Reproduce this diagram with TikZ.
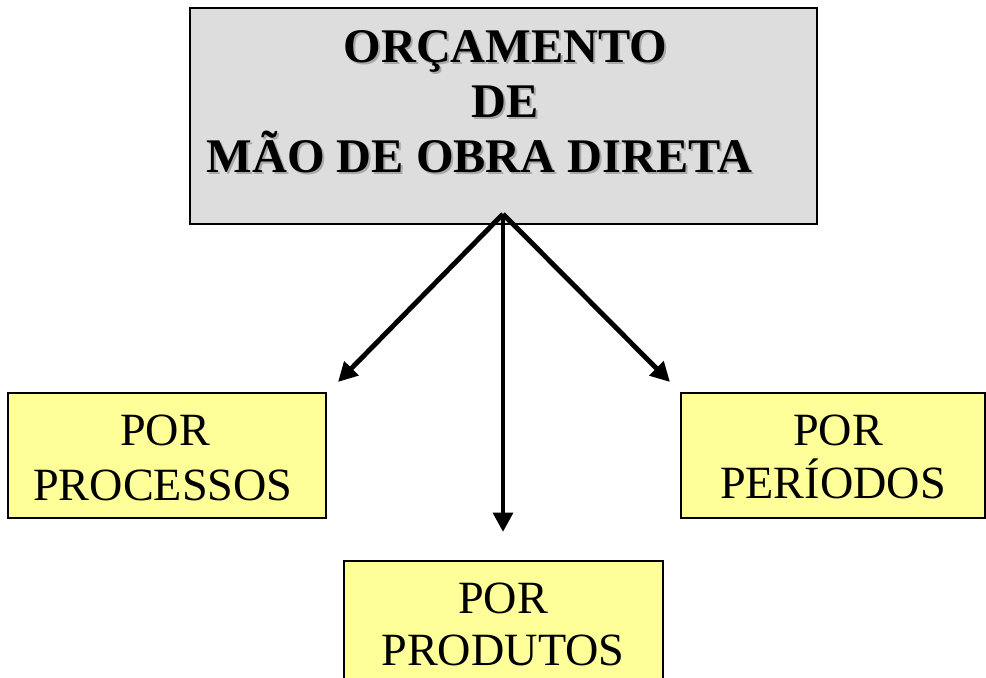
\documentclass[tikz,border=0pt]{standalone}
\usepackage{fontspec}
\setmainfont{Liberation Serif}
\usetikzlibrary{arrows.meta}
\definecolor{boxgray}{HTML}{DDDDDD}
\definecolor{boxyellow}{HTML}{FFFF99}
\definecolor{shadowgray}{HTML}{A8A8A8}
\tikzset{
  mainbox/.style={draw=black, line width=1.2pt, fill=boxgray, inner sep=0pt},
  subbox/.style={draw=black, line width=1.1pt, fill=boxyellow, inner sep=0pt, minimum height=2.5cm},
  titletext/.style={font=\fontsize{27.5}{31}\selectfont\bfseries, anchor=base, inner sep=0pt},
  titleshadow/.style={titletext, text=shadowgray},
  subtext/.style={font=\fontsize{26.3}{31}\selectfont, anchor=base, inner sep=0pt},
  conn/.style={line width=2.8pt, -{Triangle[length=11pt,width=11pt]}},
}
\begin{document}
\begin{tikzpicture}[x=0.02cm,y=-0.02cm]
\useasboundingbox[fill=white] (0,0) rectangle (986,677);

% main box
\node[mainbox, minimum width=12.54cm, minimum height=4.32cm] (top) at (503.5,116) {};
\node[titleshadow] (t1s) at (507.5,64) {ORÇAMENTO};
\node[titleshadow] (t2s) at (507,119) {DE};
\node[titleshadow] (t3s) at (481.5,174) {MÃO DE OBRA DIRETA};
\node[titletext] (t1) at (505.5,62) {ORÇAMENTO};
\node[titletext] (t2) at (505,117) {DE};
\node[titletext] (t3) at (479.5,172) {MÃO DE OBRA DIRETA};

% sub boxes
\node[subbox, minimum width=6.36cm] (proc) at (167,455.5) {};
\node[subtext] (proc1) at (165,445) {POR};
\node[subtext] (proc2) at (163,500) {PROCESSOS};

\node[subbox, minimum width=6.08cm] (per) at (833,455.5) {};
\node[subtext] (per1) at (838,445) {POR};
\node[subtext] (per2) at (833,498) {PERÍODOS};

\node[subbox, minimum width=6.38cm] (prod) at (503.5,623.5) {};
\node[subtext] (prod1) at (503,613) {POR};
\node[subtext] (prod2) at (503,665) {PRODUTOS};

% connectors
\coordinate (src) at (503,214);
\coordinate (tipl) at (338,382);
\coordinate (tipm) at (503,532);
\coordinate (tipr) at (670,382);
\draw[conn] (src) -- (tipl);
\draw[conn] (src) -- (tipm);
\draw[conn] (src) -- (tipr);
\end{tikzpicture}
\end{document}
